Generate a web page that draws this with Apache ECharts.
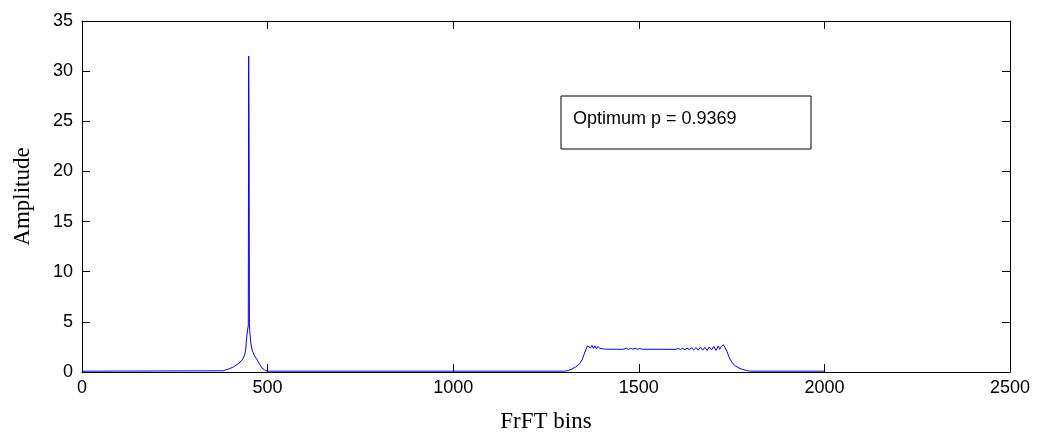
<!DOCTYPE html>
<html>
<head>
<meta charset="utf-8">
<script src="https://cdn.jsdelivr.net/npm/echarts@6/dist/echarts.min.js"></script>
<style>
  html, body { margin: 0; padding: 0; background: #fff; }
  #main { width: 1041px; height: 432px; }
</style>
</head>
<body>
<div id="main"></div>
<script>
// FrFT bin positions and amplitudes
const bins = [
  0, 380, 395, 408, 420, 432, 438, 441, 443, 446, 448, 449, 450, 451, 452, 455, 459, 465, 472, 478, 485, 492, 500,
  1300, 1310, 1320, 1330, 1340, 1347, 1352, 1357, 1362, 1366, 1370, 1374, 1378, 1382, 1386, 1390, 1395, 1400, 1405, 1410, 1415,
  1440, 1445, 1450, 1455, 1460, 1466, 1472, 1478, 1484, 1490, 1496, 1502, 1510,
  1600, 1606, 1612, 1618, 1624, 1630, 1636, 1642, 1648, 1654, 1660, 1666, 1672, 1678, 1684, 1690, 1696, 1702, 1708, 1714, 1718, 1722, 1728,
  1733, 1738, 1742, 1747, 1752, 1760, 1770, 1780, 1790, 1800, 2000
];
const amplitude = [
  0.08, 0.12, 0.3, 0.5, 0.8, 1.2, 1.7, 2.2, 3.2, 4.2, 4.6, 31.5, 24.5, 4.8, 4.0, 2.8, 2.1, 1.6, 1.2, 0.8, 0.4, 0.2, 0.08,
  0.08, 0.15, 0.3, 0.5, 0.8, 1.2, 1.7, 2.2, 2.6, 2.75, 2.4, 2.65, 2.35, 2.6, 2.3, 2.55, 2.35, 2.5, 2.3, 2.4, 2.27,
  2.27, 2.35, 2.25, 2.4, 2.28, 2.38, 2.25, 2.37, 2.27, 2.36, 2.26, 2.34, 2.27,
  2.26, 2.34, 2.25, 2.36, 2.22, 2.38, 2.24, 2.4, 2.2, 2.42, 2.2, 2.45, 2.18, 2.45, 2.15, 2.5, 2.2, 2.55, 2.15, 2.6, 2.25, 2.55, 2.72,
  2.4, 2.0, 1.6, 1.2, 0.9, 0.6, 0.4, 0.25, 0.15, 0.08, 0.08
];
const xTicks = [0, 500, 1000, 1500, 2000, 2500];
const yTicks = [0, 5, 10, 15, 20, 25, 30, 35];
const annotation = 'Optimum p = 0.9369';

const chart = echarts.init(document.getElementById('main'));
const sans = '"Liberation Sans", Arial, sans-serif';
const serif = '"Liberation Serif", "Times New Roman", serif';

const tickStyle = { show: true, inside: true, length: 8, lineStyle: { color: '#000', width: 1 } };
const axisLine = { show: true, onZero: false, lineStyle: { color: '#000', width: 1 } };

chart.setOption({
  backgroundColor: '#fff',
  animation: false,
  grid: { left: 82, right: 31, top: 21, bottom: 60, containLabel: false, outerBoundsMode: 'none' },
  xAxis: [
    {
      type: 'value', min: xTicks[0], max: xTicks[xTicks.length - 1], interval: 500,
      position: 'bottom',
      axisLine: axisLine, axisTick: tickStyle, splitLine: { show: false },
      axisLabel: { color: '#000', fontFamily: sans, fontSize: 18, margin: 7, formatter: v => String(v) },
      name: 'FrFT bins', nameLocation: 'middle', nameGap: 38,
      nameTextStyle: { color: '#000', fontFamily: serif, fontSize: 23 }
    },
    {
      type: 'value', min: xTicks[0], max: xTicks[xTicks.length - 1], interval: 500,
      position: 'top',
      axisLine: axisLine, axisTick: tickStyle, splitLine: { show: false },
      axisLabel: { show: false }
    }
  ],
  yAxis: [
    {
      type: 'value', min: yTicks[0], max: yTicks[yTicks.length - 1], interval: 5,
      position: 'left',
      axisLine: axisLine, axisTick: tickStyle, splitLine: { show: false },
      axisLabel: { color: '#000', fontFamily: sans, fontSize: 18, margin: 9, formatter: v => String(v) },
      name: 'Amplitude', nameLocation: 'middle', nameGap: 48, nameRotate: 90,
      nameTextStyle: { color: '#000', fontFamily: serif, fontSize: 23 }
    },
    {
      type: 'value', min: yTicks[0], max: yTicks[yTicks.length - 1], interval: 5,
      position: 'right',
      axisLine: axisLine, axisTick: tickStyle, splitLine: { show: false },
      axisLabel: { show: false }
    }
  ],
  graphic: [
    {
      type: 'rect',
      shape: { x: 561, y: 96, width: 250, height: 53 },
      style: { fill: '#fff', stroke: '#000', lineWidth: 1 },
      z: 10
    },
    {
      type: 'text', x: 573, y: 119,
      style: { text: annotation, fill: '#000', font: '18px ' + sans, textVerticalAlign: 'middle' },
      z: 11
    }
  ],
  series: [
    {
      type: 'line',
      data: bins.map((b, i) => [b, amplitude[i]]),
      showSymbol: false,
      lineStyle: { color: '#0000ff', width: 1 },
      itemStyle: { color: '#0000ff' }
    }
  ]
});
</script>
</body>
</html>
